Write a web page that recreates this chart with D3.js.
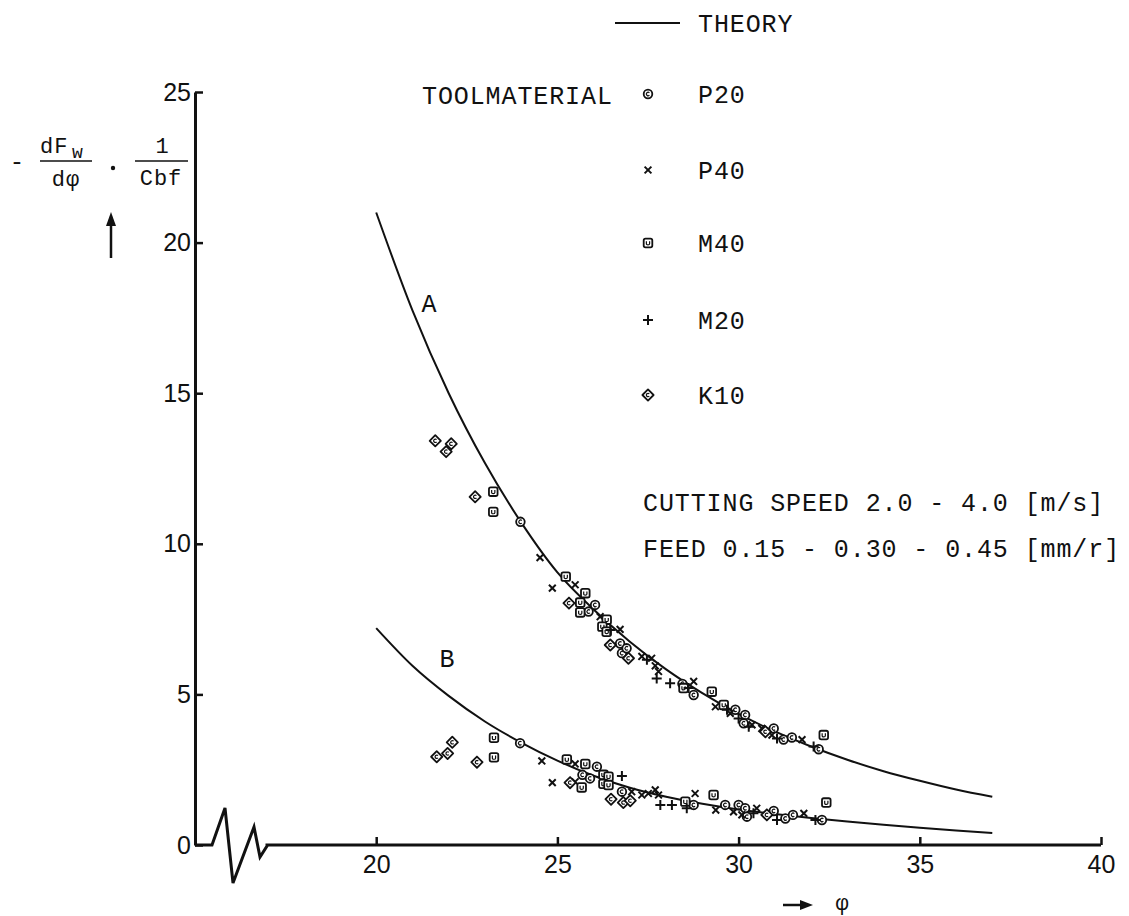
<!DOCTYPE html>
<html>
<head>
<meta charset="utf-8">
<script src="https://cdn.jsdelivr.net/npm/d3@7/dist/d3.min.js"></script>
<style>
  html, body { margin: 0; padding: 0; background: #fff; }
  svg { display: block; }
  .mono { font-family: "Liberation Mono", "Courier New", monospace; fill: #111; }
  .tick text { font-family: "Liberation Sans", Arial, sans-serif; font-size: 25px; fill: #111; }
</style>
</head>
<body>
<svg id="chart" width="1129" height="916"></svg>
<script>
// Axis ticks
const xTicks = [20, 25, 30, 35, 40];
const yTicks = [0, 5, 10, 15, 20, 25];

// Theoretical curves A and B, sampled at integer shear angles
const theoryPhi = [20, 21, 22, 23, 24, 25, 26, 27, 28, 29, 30, 31, 32, 33, 34, 35, 36, 37];
const theoryA = [21.0, 17.75, 15.0, 12.68, 10.71, 9.05, 7.82, 6.75, 5.83, 5.04, 4.35, 3.77, 3.27, 2.83, 2.45, 2.13, 1.84, 1.6];
const theoryB = [7.2, 5.95, 4.95, 4.1, 3.4, 2.8, 2.3, 1.9, 1.6, 1.37, 1.18, 1.03, 0.9, 0.78, 0.67, 0.57, 0.48, 0.4];

// Measurements per tool material: [phi, value]
const p20 = [
  [23.98, 10.73], [26.04, 7.97], [25.86, 7.75], [26.73, 6.69], [26.78, 6.37], [26.91, 6.53],
  [28.45, 5.35], [28.76, 4.98], [29.91, 4.49], [30.18, 4.32], [30.14, 4.04], [30.97, 3.87],
  [31.24, 3.5], [31.47, 3.57], [32.21, 3.18],
  [23.97, 3.38], [26.09, 2.6], [25.69, 2.33], [25.9, 2.21], [26.78, 1.77], [28.76, 1.33],
  [29.63, 1.33], [30.0, 1.33], [30.18, 1.22], [30.23, 0.94], [30.97, 1.13], [31.29, 0.88],
  [31.5, 1.0], [32.3, 0.83]
];
const p40 = [
  [24.52, 9.54], [24.86, 8.53], [25.49, 8.64], [26.18, 7.58], [26.73, 7.16], [27.33, 6.26],
  [27.6, 6.2], [27.7, 5.95], [27.79, 5.76], [28.76, 5.43], [29.36, 4.59], [29.77, 4.37],
  [30.37, 3.99], [30.64, 3.87], [30.92, 3.65], [31.75, 3.5],
  [24.57, 2.79], [24.86, 2.07], [25.49, 2.69], [25.49, 2.1], [27.05, 1.77], [27.33, 1.66],
  [27.51, 1.71], [27.7, 1.83], [27.79, 1.66], [28.8, 1.71], [29.37, 1.16], [29.86, 1.1],
  [30.09, 1.0], [30.5, 1.22], [31.8, 1.05]
];
const m40 = [
  [23.23, 11.73], [23.23, 11.06], [25.23, 8.91], [25.63, 8.05], [25.77, 8.36], [25.63, 7.72],
  [26.36, 7.48], [26.24, 7.25], [26.36, 7.08], [28.48, 5.21], [29.26, 5.09], [29.59, 4.65],
  [32.35, 3.65],
  [23.25, 3.56], [23.25, 2.91], [25.26, 2.84], [25.77, 2.69], [25.67, 1.91], [26.27, 2.33],
  [26.41, 2.27], [26.27, 2.03], [26.41, 1.99], [28.53, 1.44], [29.31, 1.66], [32.42, 1.41]
];
const m20 = [
  [26.46, 7.14], [27.47, 6.15], [27.74, 5.53], [28.11, 5.37], [28.62, 5.21], [29.68, 4.49],
  [30.0, 4.2], [30.28, 3.93], [31.06, 3.54], [32.07, 3.27],
  [26.78, 2.29], [27.84, 1.33], [28.16, 1.33], [28.57, 1.22], [30.41, 1.05], [31.06, 0.83],
  [32.12, 0.83]
];
const k10 = [
  [21.63, 13.42], [22.07, 13.32], [21.93, 13.06], [22.73, 11.56], [25.32, 8.03], [26.46, 6.64],
  [26.96, 6.2], [30.74, 3.76],
  [21.67, 2.93], [21.97, 3.04], [22.1, 3.41], [22.78, 2.75], [25.35, 2.07], [26.48, 1.52],
  [26.82, 1.41], [27.01, 1.47], [30.78, 1.0]
];

const materials = [
  { name: "P20", kind: "circle", data: p20 },
  { name: "P40", kind: "cross", data: p40 },
  { name: "M40", kind: "square", data: m40 },
  { name: "M20", kind: "plus", data: m20 },
  { name: "K10", kind: "diamond", data: k10 }
];

const svg = d3.select("#chart");
svg.append("rect").attr("width", 1129).attr("height", 916).attr("fill", "#fff");

// The horizontal axis starts at 15 (where the vertical axis sits) with a break drawn after it
const x = d3.scaleLinear().domain([15, 40]).range([195, 1101]);
const y = d3.scaleLinear().domain([0, 25]).range([845, 92]);

const ink = "#111";

// Vertical axis
const yAxis = svg.append("g")
  .attr("transform", `translate(${x(15)},0)`)
  .call(d3.axisLeft(y).tickValues(yTicks).tickSizeInner(-8).tickSizeOuter(0).tickPadding(4));
yAxis.select(".domain").attr("stroke", ink).attr("stroke-width", 3);
yAxis.selectAll(".tick line").attr("stroke", ink).attr("stroke-width", 2.5);

// Horizontal axis: ticks and labels, baseline drawn separately with the break
const xAxis = svg.append("g")
  .attr("transform", `translate(0,${y(0)})`)
  .call(d3.axisBottom(x).tickValues(xTicks).tickSizeInner(-8).tickSizeOuter(0).tickPadding(10));
xAxis.select(".domain").remove();
xAxis.selectAll(".tick line").attr("stroke", ink).attr("stroke-width", 2.5);

// Axis break: zigzag offsets from the origin
const breakPts = [[0, 0], [17, 0], [30, -37], [38, 38], [59, -18], [65, 12], [72, 1]];
const x0 = x(15), y0 = y(0);
const basePts = breakPts.map(([dx, dy]) => [x0 + dx, y0 + dy]).concat([[x0 + 72, y0], [x(40), y0]]);
svg.append("path")
  .attr("d", d3.line()(basePts))
  .attr("fill", "none").attr("stroke", ink).attr("stroke-width", 3)
  .attr("stroke-linejoin", "miter");

// Theory curves
const line = d3.line().x(d => x(d[0])).y(d => y(d[1])).curve(d3.curveMonotoneX);
[theoryA, theoryB].forEach(vals => {
  svg.append("path")
    .datum(theoryPhi.map((p, i) => [p, vals[i]]))
    .attr("d", line)
    .attr("fill", "none").attr("stroke", ink).attr("stroke-width", 2);
});

// Marker glyphs
function drawMarker(g, kind) {
  const sw = 1.8;
  if (kind === "circle") {
    g.append("circle").attr("r", 4.3).attr("fill", "#fff").attr("stroke", ink).attr("stroke-width", sw);
    g.append("path").attr("d", "M1.4,-1.3 A1.8,1.8 0 1 0 1.4,1.3").attr("fill", "none").attr("stroke", ink).attr("stroke-width", 1.2);
  } else if (kind === "square") {
    g.append("rect").attr("x", -4.3).attr("y", -4.3).attr("width", 8.6).attr("height", 8.6).attr("rx", 1.8)
      .attr("fill", "#fff").attr("stroke", ink).attr("stroke-width", sw);
    g.append("path").attr("d", "M-1.6,-1.8 V0.8 Q-1.6,1.9 0,1.9 Q1.6,1.9 1.6,0.8 V-1.8").attr("fill", "none").attr("stroke", ink).attr("stroke-width", 1.2);
  } else if (kind === "diamond") {
    g.append("path").attr("d", "M0,-5.6 L5.6,0 L0,5.6 L-5.6,0 Z").attr("fill", "#fff").attr("stroke", ink)
      .attr("stroke-width", sw).attr("stroke-linejoin", "round");
    g.append("path").attr("d", "M1.3,-1.2 A1.7,1.7 0 1 0 1.3,1.2").attr("fill", "none").attr("stroke", ink).attr("stroke-width", 1.2);
  } else if (kind === "cross") {
    g.append("path").attr("d", "M-3.4,-3.4 L3.4,3.4 M3.4,-3.4 L-3.4,3.4").attr("stroke", ink).attr("stroke-width", 2);
  } else if (kind === "plus") {
    g.append("path").attr("d", "M-5,0 H5 M0,-5 V5").attr("stroke", ink).attr("stroke-width", 2);
  }
}

// Data points
materials.forEach(m => {
  svg.append("g").selectAll("g")
    .data(m.data)
    .join("g")
    .attr("transform", d => `translate(${x(d[0])},${y(d[1])})`)
    .each(function () { drawMarker(d3.select(this), m.kind); });
});

// Curve labels
svg.append("text").attr("class", "mono").attr("x", 429).attr("y", 312).attr("text-anchor", "middle")
  .attr("font-size", 25).text("A");
svg.append("text").attr("class", "mono").attr("x", 447).attr("y", 667).attr("text-anchor", "middle")
  .attr("font-size", 25).text("B");

// Legend
const legendX = 648, legendTextX = 698;
svg.append("line").attr("x1", 615).attr("x2", 680).attr("y1", 23).attr("y2", 23)
  .attr("stroke", ink).attr("stroke-width", 2);
svg.append("text").attr("class", "mono").attr("x", legendTextX).attr("y", 23).attr("dy", "0.35em")
  .attr("font-size", 25).attr("letter-spacing", 0.9).text("THEORY");
svg.append("text").attr("class", "mono").attr("x", 422).attr("y", 95).attr("dy", "0.35em")
  .attr("font-size", 25).attr("letter-spacing", 0.9).text("TOOLMATERIAL");
const legendY = [94, 170, 243, 320, 395];
materials.forEach((m, i) => {
  const g = svg.append("g").attr("transform", `translate(${legendX},${legendY[i]})`);
  drawMarker(g, m.kind);
  svg.append("text").attr("class", "mono").attr("x", legendTextX).attr("y", legendY[i]).attr("dy", "0.35em")
    .attr("font-size", 25).attr("letter-spacing", 0.9).text(m.name);
});

// Test conditions
svg.append("text").attr("class", "mono").attr("x", 643).attr("y", 502).attr("dy", "0.35em")
  .attr("font-size", 25).attr("letter-spacing", 0.9).text("CUTTING SPEED 2.0 - 4.0 [m/s]");
svg.append("text").attr("class", "mono").attr("x", 643).attr("y", 548).attr("dy", "0.35em")
  .attr("font-size", 25).attr("letter-spacing", 0.9).text("FEED 0.15 - 0.30 - 0.45 [mm/r]");

// Y-axis title: - dF_w/dφ · 1/Cbf, with an upward arrow
const yt = svg.append("g").attr("class", "mono");
yt.append("text").attr("x", 17).attr("y", 161).attr("dy", "0.35em").attr("text-anchor", "middle")
  .attr("font-size", 24).text("-");
yt.append("text").attr("x", 40).attr("y", 153).attr("font-size", 22).attr("letter-spacing", 1)
  .text("dF");
yt.append("text").attr("x", 72).attr("y", 158).attr("font-size", 18).text("w");
yt.append("line").attr("x1", 40).attr("x2", 92).attr("y1", 161).attr("y2", 161).attr("stroke", ink).attr("stroke-width", 1.5);
yt.append("text").attr("x", 66).attr("y", 186).attr("text-anchor", "middle").attr("font-size", 22)
  .attr("letter-spacing", 1).text("dφ");
yt.append("circle").attr("cx", 113).attr("cy", 168).attr("r", 2.2).attr("fill", ink);
yt.append("text").attr("x", 162).attr("y", 153).attr("text-anchor", "middle").attr("font-size", 22).text("1");
yt.append("line").attr("x1", 135).attr("x2", 188).attr("y1", 161).attr("y2", 161).attr("stroke", ink).attr("stroke-width", 1.5);
yt.append("text").attr("x", 161).attr("y", 185).attr("text-anchor", "middle").attr("font-size", 22)
  .attr("letter-spacing", 1).text("Cbf");
svg.append("line").attr("x1", 111).attr("x2", 111).attr("y1", 258).attr("y2", 222).attr("stroke", ink).attr("stroke-width", 2.5);
svg.append("path").attr("d", "M111,212 L106,226 L116,226 Z").attr("fill", ink);

// X-axis title: arrow and φ
svg.append("line").attr("x1", 783).attr("x2", 803).attr("y1", 905).attr("y2", 905).attr("stroke", ink).attr("stroke-width", 2.5);
svg.append("path").attr("d", "M813,905 L800,900 L800,910 Z").attr("fill", ink);
svg.append("text").attr("class", "mono").attr("x", 842).attr("y", 910)
  .attr("text-anchor", "middle").attr("font-size", 22).text("φ");
</script>
</body>
</html>
